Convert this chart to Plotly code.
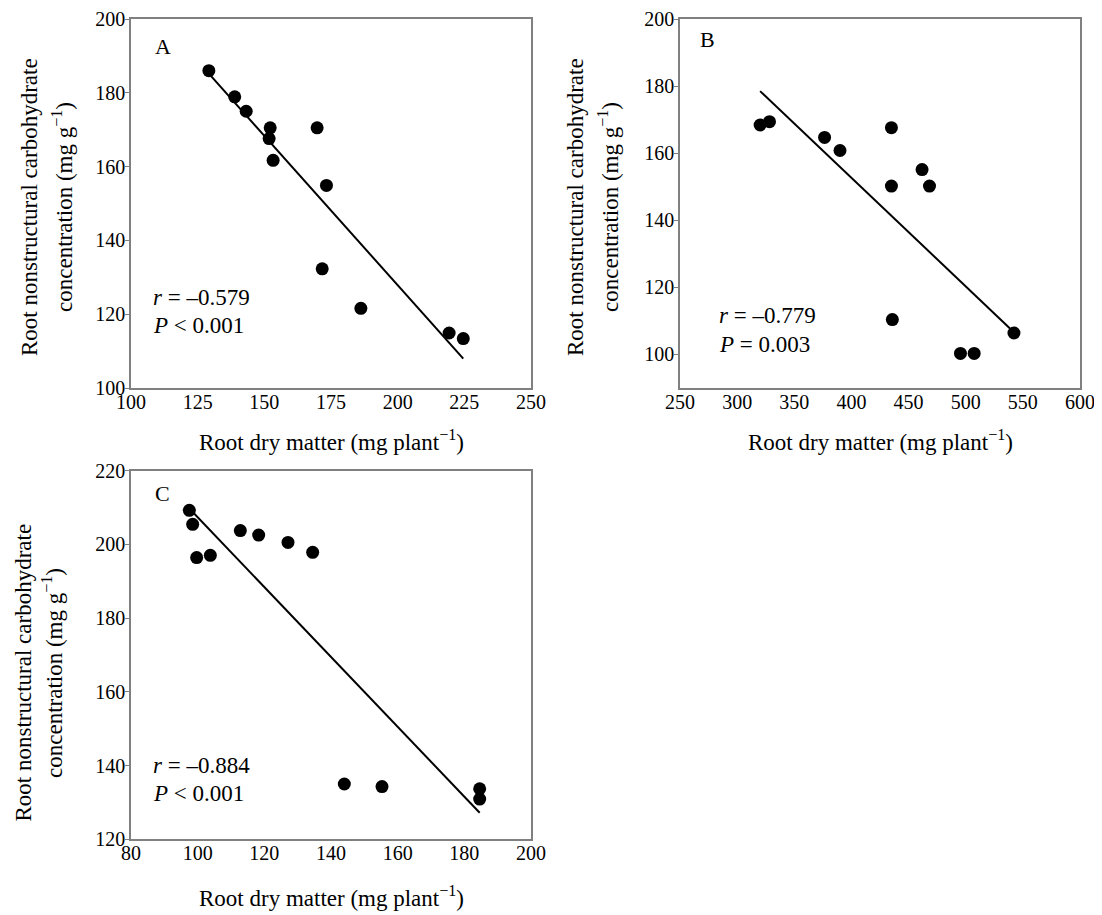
import numpy as np
import plotly.graph_objects as go

# ---------------- data ----------------
a_x = [129.2, 138.9, 143.2, 152.2, 151.8, 153.3, 169.8, 173.3, 171.7, 186.2, 219.3, 224.6]
a_y = [186.0, 178.9, 175.0, 170.5, 167.6, 161.7, 170.5, 154.9, 132.3, 121.6, 114.9, 113.4]

b_x = [320.1, 328.3, 376.5, 390.0, 435.0, 435.0, 461.8, 468.3, 435.8, 495.4, 507.4, 542.2]
b_y = [168.4, 169.4, 164.7, 160.8, 167.6, 150.2, 155.1, 150.2, 110.4, 100.3, 100.3, 106.4]

c_x = [97.5, 98.5, 99.7, 103.8, 112.8, 118.3, 127.1, 134.5, 144.0, 155.3, 184.6, 184.6]
c_y = [209.2, 205.4, 196.4, 197.0, 203.7, 202.5, 200.5, 197.8, 135.0, 134.3, 133.7, 130.9]

panel_labels = ["A", "B", "C"]
r_texts = ["–0.579", "–0.779", "–0.884"]
p_texts = ["&lt; 0.001", "= 0.003", "&lt; 0.001"]

a_xticks = [100, 125, 150, 175, 200, 225, 250]
a_yticks = [100, 120, 140, 160, 180, 200]
b_xticks = [250, 300, 350, 400, 450, 500, 550, 600]
b_yticks = [100, 120, 140, 160, 180, 200]
c_xticks = [80, 100, 120, 140, 160, 180, 200]
c_yticks = [120, 140, 160, 180, 200, 220]

x_title = "Root dry matter (mg plant<sup>−1</sup>)"
y_title1 = "Root nonstructural carbohydrate"
y_title2 = "concentration (mg g<sup>−1</sup>)"

# ---------------- figure ----------------
# the page body has an 8px margin, so the figure is drawn 8px smaller
# and every target window position is shifted by that offset
OFF = 8
W, H = 1102 - OFF, 915 - OFF
FONT = "Liberation Serif, Times New Roman, serif"


def px(x):
    return (x - OFF) / W


def py(y):
    return 1 - (y - OFF) / H


fig = go.Figure()

panels = [
    (a_x, a_y, "x", "y"),
    (b_x, b_y, "x2", "y2"),
    (c_x, c_y, "x3", "y3"),
]

for xs, ys, xa, ya in panels:
    xs_arr = np.array(xs)
    ys_arr = np.array(ys)
    slope, intercept = np.polyfit(xs_arr, ys_arr, 1)
    lx = np.array([xs_arr.min(), xs_arr.max()])
    ly = slope * lx + intercept
    fig.add_trace(go.Scatter(x=lx, y=ly, mode="lines",
                             line=dict(color="black", width=2),
                             xaxis=xa, yaxis=ya, showlegend=False,
                             hoverinfo="skip"))
    fig.add_trace(go.Scatter(x=xs, y=ys, mode="markers",
                             marker=dict(color="black", size=13, symbol="circle"),
                             xaxis=xa, yaxis=ya, showlegend=False))

axis_common = dict(
    showline=True, mirror=True, linecolor="#808080", linewidth=1.5,
    showgrid=False, zeroline=False, automargin=False,
    tickfont=dict(family=FONT, size=20, color="black"),
)
x_common = dict(ticks="", ticklabelstandoff=-5, **axis_common)
y_common = dict(ticks="outside", ticklen=4, tickcolor="#808080",
                ticklabelstandoff=-4, **axis_common)

xd_left = [px(131), px(531)]
xd_right = [px(680), px(1080)]
yd_top = [py(388), py(19)]
yd_bot = [py(839.3), py(470.5)]

fig.update_layout(
    width=W, height=H,
    margin=dict(l=0, r=0, t=0, b=0, pad=0, autoexpand=False),
    paper_bgcolor="white", plot_bgcolor="white",
    showlegend=False,
    font=dict(family=FONT, color="black"),
    xaxis=dict(domain=xd_left, range=[100, 250], tickvals=a_xticks, anchor="y", **x_common),
    yaxis=dict(domain=yd_top, range=[100, 200], tickvals=a_yticks, anchor="x", **y_common),
    xaxis2=dict(domain=xd_right, range=[250, 600], tickvals=b_xticks, anchor="y2", **x_common),
    yaxis2=dict(domain=yd_top, range=[90, 200], tickvals=b_yticks, anchor="x2", **y_common),
    xaxis3=dict(domain=xd_left, range=[80, 200], tickvals=c_xticks, anchor="y3", **x_common),
    yaxis3=dict(domain=yd_bot, range=[120, 220], tickvals=c_yticks, anchor="x3", **y_common),
)

annotations = []


def ann(x, y, text, size, xanchor="center", angle=0):
    annotations.append(dict(
        x=px(x), y=py(y), xref="paper", yref="paper", text=text,
        showarrow=False, xanchor=xanchor, yanchor="middle", textangle=angle,
        font=dict(family=FONT, size=size, color="black")))


# x-axis titles
ann(331, 440, x_title, 23)
ann(880, 440, x_title, 23)
ann(331, 896, x_title, 23)

# y-axis titles (two lines each)
for (x1, x2, yc) in [(29, 62, 207), (575, 608, 207), (22.5, 52, 673)]:
    ann(x1, yc, y_title1, 23, angle=-90)
    ann(x2, yc, y_title2, 23, angle=-90)

# panel letters
for (x, y), lab in zip([(163, 46), (707, 39), (162, 493)], panel_labels):
    ann(x, y, lab, 22)

# statistics
for (x, y), r, p in zip([(151, 297), (717, 316), (151, 765)], r_texts, p_texts):
    ann(x, y, "<i>r</i> = " + r, 23, xanchor="left")
    ann(x, y + 28.5, "<i>P</i> " + p, 23, xanchor="left")

fig.update_layout(annotations=annotations)

fig.write_html("out.html")
